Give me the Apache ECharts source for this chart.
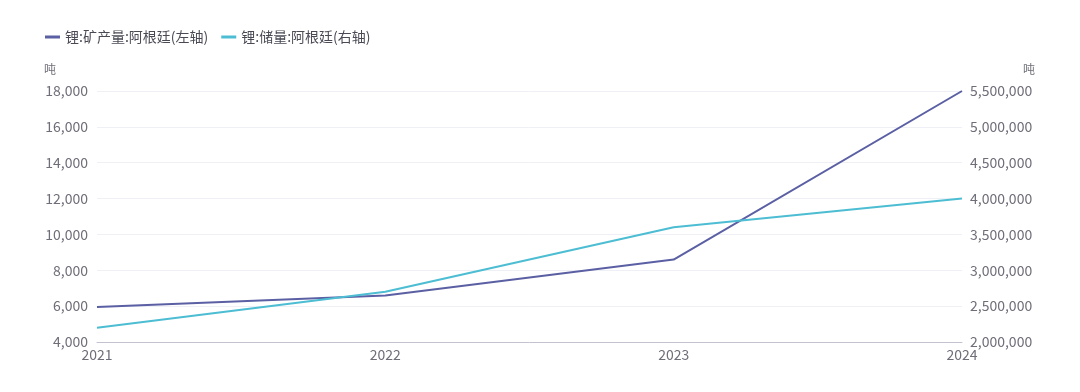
<!DOCTYPE html>
<html>
<head>
<meta charset="utf-8">
<script src="https://cdn.jsdelivr.net/npm/echarts@6/dist/echarts.min.js"></script>
<style>
html,body{margin:0;padding:0;background:#fff;}
#main{width:1080px;height:392px;}
</style>
</head>
<body>
<div id="main"></div>
<script>
const categories = ['2021', '2022', '2023', '2024'];
const seriesNames = ['锂:矿产量:阿根廷(左轴)', '锂:储量:阿根廷(右轴)'];
const productionValues = [5950, 6600, 8600, 18000];
const reserveValues = [2200000, 2700000, 3600000, 4000000];
const unitLabel = '吨';

const chart = echarts.init(document.getElementById('main'), null, {renderer: 'canvas'});
const fontFamily = '"Microsoft YaHei", "Noto Sans CJK SC", "Noto Sans", sans-serif';
const labelColor = '#6e6e78';
chart.setOption({
  animation: false,
  color: ['#5b5fa3', '#4cbdd2'],
  textStyle: {fontFamily: fontFamily},
  legend: {
    left: 40, top: 25,
    itemWidth: 15, itemHeight: 3, itemGap: 13,
    icon: 'rect',
    textStyle: {fontSize: 14, color: '#4a4a55', fontFamily: fontFamily},
    data: seriesNames
  },
  grid: {left: 97, right: 118, top: 91, bottom: 50, containLabel: false},
  xAxis: {
    type: 'category', data: categories, boundaryGap: false,
    axisLine: {lineStyle: {color: '#c3c3cf'}},
    axisTick: {show: false},
    axisLabel: {fontSize: 14, color: labelColor, margin: 6}
  },
  yAxis: [{
    type: 'value', min: 4000, max: 18000, interval: 2000,
    name: unitLabel, nameLocation: 'end', nameGap: 16,
    nameTextStyle: {fontSize: 12, color: labelColor, align: 'right', padding: [0, 41, 0, 0]},
    axisLine: {show: false}, axisTick: {show: false},
    axisLabel: {fontSize: 14, color: labelColor, margin: 9,
      formatter: v => v.toLocaleString('en-US')},
    splitLine: {lineStyle: {color: '#eef0f5'}}
  }, {
    type: 'value', min: 2000000, max: 5500000, interval: 500000,
    name: unitLabel, nameLocation: 'end', nameGap: 16,
    nameTextStyle: {fontSize: 12, color: labelColor, align: 'left', padding: [0, 0, 0, 61]},
    axisLine: {show: false}, axisTick: {show: false},
    axisLabel: {fontSize: 14, color: labelColor, margin: 8,
      formatter: v => v.toLocaleString('en-US')},
    splitLine: {show: false}
  }],
  series: [{
    name: seriesNames[0], type: 'line', yAxisIndex: 0,
    data: productionValues, showSymbol: false, symbol: 'none',
    lineStyle: {width: 2}
  }, {
    name: seriesNames[1], type: 'line', yAxisIndex: 1,
    data: reserveValues, showSymbol: false, symbol: 'none',
    lineStyle: {width: 2}
  }]
});
</script>
</body>
</html>
